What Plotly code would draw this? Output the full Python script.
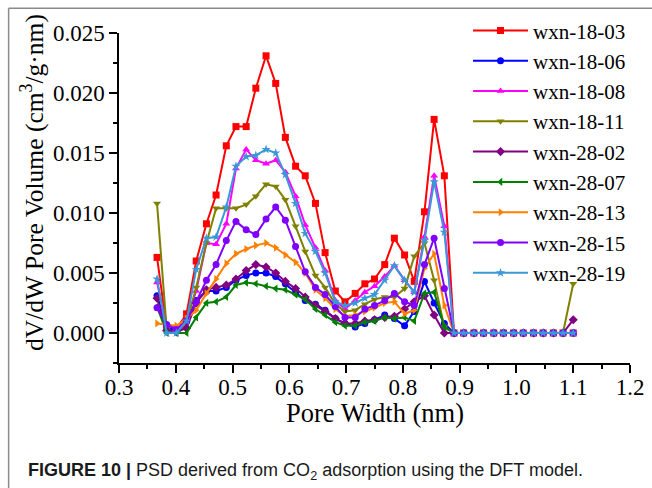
import plotly.graph_objects as go

# Pore width grid (nm)
pore_width = [0.367, 0.384, 0.401, 0.419, 0.436, 0.454, 0.471, 0.489, 0.506, 0.524,
              0.541, 0.559, 0.576, 0.593, 0.611, 0.628, 0.646, 0.663, 0.681, 0.698,
              0.716, 0.733, 0.750, 0.768, 0.785, 0.803, 0.820, 0.838, 0.855, 0.873,
              0.890, 0.907, 0.925, 0.942, 0.960, 0.977, 0.995, 1.012, 1.030, 1.047,
              1.065, 1.082, 1.100]

Z13 = [0.0] * 13

wxn_18_03 = [0.0063, 0.0004, 0.0003, 0.0016, 0.0060, 0.0091, 0.0115, 0.0156, 0.0172, 0.0172,
             0.0204, 0.0231, 0.0208, 0.0163, 0.0139, 0.0131, 0.0108, 0.0067, 0.0035, 0.0026,
             0.0033, 0.0041, 0.0045, 0.0057, 0.0079, 0.0065, 0.0043, 0.0101, 0.0178, 0.0131] + Z13
wxn_18_06 = [0.0031, 0.0005, 0.0002, 0.0010, 0.0027, 0.0035, 0.0035, 0.0038, 0.0044, 0.0048,
             0.0050, 0.0050, 0.0047, 0.0041, 0.0034, 0.0027, 0.0024, 0.0019, 0.0012, 0.0008,
             0.0005, 0.0008, 0.0011, 0.0015, 0.0012, 0.0006, 0.0018, 0.0043, 0.0025, 0.0008] + Z13
wxn_18_08 = [0.0042, 0.0006, 0.0004, 0.0012, 0.0035, 0.0075, 0.0074, 0.0091, 0.0137, 0.0153,
             0.0144, 0.0141, 0.0144, 0.0134, 0.0114, 0.0090, 0.0071, 0.0052, 0.0027, 0.0020,
             0.0027, 0.0034, 0.0039, 0.0047, 0.0056, 0.0044, 0.0034, 0.0080, 0.0131, 0.0089] + Z13
wxn_18_11 = [0.0108, 0.0003, 0.0000, 0.0008, 0.0038, 0.0075, 0.0104, 0.0104, 0.0104, 0.0107,
             0.0114, 0.0124, 0.0122, 0.0111, 0.0089, 0.0068, 0.0048, 0.0038, 0.0024, 0.0018,
             0.0019, 0.0024, 0.0028, 0.0030, 0.0030, 0.0037, 0.0064, 0.0075, 0.0044, 0.0005,
             0.0, 0.0, 0.0, 0.0, 0.0, 0.0, 0.0, 0.0, 0.0, 0.0, 0.0, 0.0, 0.0041]
wxn_28_02 = [0.0029, 0.0002, 0.0001, 0.0004, 0.0025, 0.0036, 0.0038, 0.0040, 0.0045, 0.0052,
             0.0057, 0.0055, 0.0050, 0.0043, 0.0037, 0.0030, 0.0023, 0.0018, 0.0012, 0.0008,
             0.0008, 0.0010, 0.0011, 0.0013, 0.0014, 0.0020, 0.0026, 0.0031, 0.0015, 0.0000,
             0.0, 0.0, 0.0, 0.0, 0.0, 0.0, 0.0, 0.0, 0.0, 0.0, 0.0, 0.0, 0.0011]
wxn_28_07 = [0.0022, 0.0000, 0.0000, 0.0000, 0.0013, 0.0025, 0.0026, 0.0030, 0.0040, 0.0042,
             0.0041, 0.0039, 0.0037, 0.0036, 0.0032, 0.0028, 0.0020, 0.0015, 0.0009, 0.0006,
             0.0006, 0.0009, 0.0010, 0.0013, 0.0012, 0.0013, 0.0010, 0.0033, 0.0034, 0.0005] + Z13
wxn_28_13 = [0.0008, 0.0007, 0.0006, 0.0012, 0.0019, 0.0033, 0.0045, 0.0058, 0.0066, 0.0070,
             0.0073, 0.0075, 0.0071, 0.0065, 0.0059, 0.0050, 0.0036, 0.0029, 0.0020, 0.0014,
             0.0015, 0.0018, 0.0021, 0.0025, 0.0026, 0.0016, 0.0019, 0.0054, 0.0066, 0.0023] + Z13
wxn_28_15 = [0.0021, 0.0007, 0.0003, 0.0010, 0.0026, 0.0044, 0.0057, 0.0077, 0.0093, 0.0086,
             0.0082, 0.0095, 0.0105, 0.0094, 0.0072, 0.0051, 0.0038, 0.0032, 0.0022, 0.0013,
             0.0013, 0.0020, 0.0023, 0.0027, 0.0033, 0.0026, 0.0023, 0.0057, 0.0079, 0.0037] + Z13
wxn_28_19 = [0.0045, 0.0000, 0.0000, 0.0010, 0.0053, 0.0079, 0.0080, 0.0105, 0.0139, 0.0147,
             0.0148, 0.0153, 0.0150, 0.0132, 0.0108, 0.0083, 0.0068, 0.0050, 0.0026, 0.0023,
             0.0025, 0.0029, 0.0032, 0.0044, 0.0056, 0.0044, 0.0034, 0.0077, 0.0126, 0.0084] + Z13

series_names = ["wxn-18-03", "wxn-18-06", "wxn-18-08", "wxn-18-11", "wxn-28-02",
                "wxn-28-07", "wxn-28-13", "wxn-28-15", "wxn-28-19"]
series_values = [wxn_18_03, wxn_18_06, wxn_18_08, wxn_18_11, wxn_28_02,
                 wxn_28_07, wxn_28_13, wxn_28_15, wxn_28_19]
colors = ["#FF0000", "#0000FF", "#FF00FF", "#808000", "#800080",
          "#008000", "#FF8000", "#8000FF", "#3A98D8"]
symbols = ["square", "circle", "triangle-up", "triangle-down", "diamond",
           "triangle-left", "triangle-right", "circle", "star"]

x_ticks = [0.3, 0.4, 0.5, 0.6, 0.7, 0.8, 0.9, 1.0, 1.1, 1.2]
y_ticks = [0.000, 0.005, 0.010, 0.015, 0.020, 0.025]

SERIF = "Liberation Serif"

fig = go.Figure()
for name, vals, col, sym in zip(series_names, series_values, colors, symbols):
    fig.add_trace(go.Scatter(
        x=pore_width, y=vals, name=name, mode="lines+markers",
        line=dict(color=col, width=2),
        marker=dict(symbol=sym, size=7, color=col, line=dict(width=0)),
    ))

axis_common = dict(
    showline=True, linecolor="black", linewidth=1.5,
    ticks="outside", ticklen=8, tickwidth=1.5, tickcolor="black",
    showgrid=False, zeroline=False, mirror=False,
    tickfont=dict(family=SERIF, size=23, color="black"),
)

fig.update_xaxes(
    range=[0.3, 1.2], tickvals=x_ticks, tickformat=".1f", ticklabelstandoff=-5,
    minor=dict(ticks="outside", ticklen=4, tickwidth=1.5, tickcolor="black", dtick=0.05, tick0=0.3),
    **axis_common,
)
fig.update_yaxes(
    range=[-0.0025, 0.025], tickvals=y_ticks, tickformat=".3f",
    minor=dict(ticks="outside", ticklen=4, tickwidth=1.5, tickcolor="black", dtick=0.0025, tick0=0),
    **axis_common,
)

fig.update_layout(
    width=652, height=488,
    margin=dict(l=119, r=22, t=33, b=125, autoexpand=False),
    paper_bgcolor="white", plot_bgcolor="white",
    showlegend=True,
    legend=dict(
        x=0.683, y=1.069, xanchor="left", yanchor="top",
        bgcolor="rgba(0,0,0,0)", borderwidth=0,
        font=dict(family=SERIF, size=21, color="black"),
        itemwidth=55, maxheight=440,
    ),
    annotations=[
        dict(text="dV/dW Pore Volume (cm<sup>3</sup>/g·nm)", textangle=-90,
             xref="paper", yref="paper", x=0, y=0.5455, xshift=-86,
             xanchor="center", yanchor="middle", showarrow=False,
             font=dict(family=SERIF, size=25.5, color="black")),
        dict(text="Pore Width (nm)",
             xref="paper", yref="paper", x=0.5, y=-0.152,
             xanchor="center", yanchor="middle", showarrow=False,
             font=dict(family=SERIF, size=26.5, color="black")),
        dict(text="<b>FIGURE 10 |</b> PSD derived from CO<sub>2</sub> adsorption using the DFT model.",
             xref="paper", yref="paper", x=0, y=-0.329, xshift=-93,
             xanchor="left", yanchor="middle", showarrow=False,
             font=dict(family="Liberation Sans", size=18, color="#1a1a1a")),
    ],
    shapes=[
        dict(type="line", xref="paper", yref="paper",
             x0=-0.2160, x1=1.05, y0=1.0749, y1=1.0749,
             line=dict(color="#8a8a8a", width=1.5)),
        dict(type="line", xref="paper", yref="paper",
             x0=-0.2160, x1=-0.2160, y0=1.0749, y1=-0.39,
             line=dict(color="#8a8a8a", width=1.5)),
    ],
)

fig.write_html("out.html")
